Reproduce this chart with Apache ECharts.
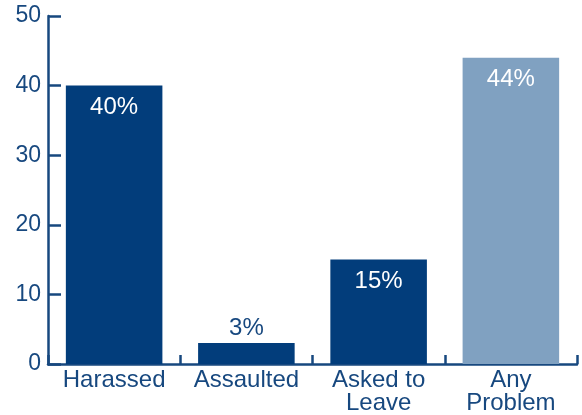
<!DOCTYPE html>
<html><head><meta charset="utf-8">
<script src="https://cdn.jsdelivr.net/npm/echarts@6/dist/echarts.min.js"></script>
<style>html,body{margin:0;padding:0;background:#fff}#c{width:582px;height:415px}</style>
</head><body><div id="c"></div>
<script>
const categories = ['Harassed', 'Assaulted', 'Asked to\nLeave', 'Any\nProblem'];
const values = [40, 3, 15, 44];
const labels = ['40%', '3%', '15%', '44%'];
const yTicks = [0, 10, 20, 30, 40, 50];

const dark = '#023d7b';
const light = '#80a1c1';
const axisCol = '#17487f';
const font = 'Liberation Sans, Arial, sans-serif';

const data = values.map((v, i) => {
  const isLight = i === 3;
  const outside = v < 8;
  return {
    value: v,
    itemStyle: { color: isLight ? light : dark },
    label: {
      show: true,
      formatter: labels[i],
      position: outside ? 'top' : 'insideTop',
      distance: outside ? 3 : 10,
      color: outside ? axisCol : '#ffffff',
      fontSize: 24,
      fontFamily: font
    }
  };
});

const chart = echarts.init(document.getElementById('c'), null, { renderer: 'canvas' });
chart.setOption({
  animation: false,
  grid: { left: 48, right: 5, top: 16, bottom: 51, containLabel: false, outerBoundsMode: 'none' },
  xAxis: {
    type: 'category',
    data: categories,
    axisLine: { lineStyle: { color: axisCol, width: 2.5 } },
    axisTick: { show: true, inside: true, length: 9, alignWithLabel: false, lineStyle: { color: axisCol, width: 2.5 } },
    axisLabel: { color: axisCol, fontSize: 24, fontFamily: font, margin: 5, lineHeight: 23, interval: 0 }
  },
  yAxis: {
    type: 'value',
    min: yTicks[0],
    max: yTicks[yTicks.length - 1],
    interval: 10,
    axisLine: { show: true, lineStyle: { color: axisCol, width: 2.5 } },
    axisTick: { show: true, inside: true, length: 13, lineStyle: { color: axisCol, width: 2.5 } },
    splitLine: { show: false },
    axisLabel: { color: axisCol, fontSize: 23, fontFamily: font, margin: 7 }
  },
  series: [{
    type: 'bar',
    data: data,
    barWidth: '73%'
  }]
});
</script>
</body></html>
